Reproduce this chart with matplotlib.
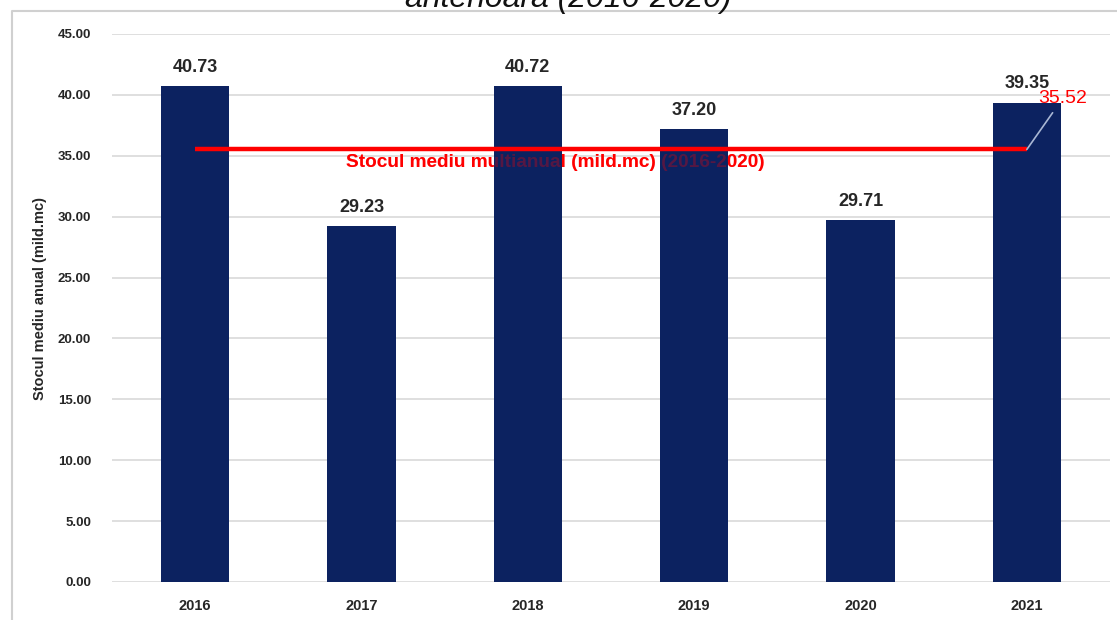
import matplotlib
matplotlib.use("Agg")
import matplotlib.pyplot as plt
from matplotlib.lines import Line2D

# values
years = ['2016', '2017', '2018', '2019', '2020', '2021']
stoc_mediu = [40.73, 29.23, 40.72, 37.20, 29.71, 39.35]
stoc_multianual = 35.52
yticks = [0, 5, 10, 15, 20, 25, 30, 35, 40, 45]

title_text = 'antenoara (2016-2020)'
ylabel_text = 'Stocul mediu anual (mild.mc)'
line_label = 'Stocul mediu multianual (mild.mc) (2016-2020)'

font = ['Liberation Sans', 'DejaVu Sans']
bar_color = '#0c2260'
red = '#ff0000'
dark = '#262626'

fig = plt.figure(figsize=(11.17, 6.2), dpi=100)
ax = fig.add_axes([112 / 1117, 1 - 582 / 620, 998 / 1117, 548 / 620])

x = list(range(len(years)))
ax.bar(x, stoc_mediu, width=0.41, color=bar_color, zorder=3)

# value labels above the bars
for xi, v in zip(x, stoc_mediu):
    ax.annotate(f'{v:.2f}', (xi, v), xytext=(0, 7.5), textcoords='offset points',
                ha='center', va='bottom', fontsize=13, fontweight='bold',
                family=font, color=dark, zorder=5)

# multi-year average line
ax.plot([x[0], x[-1]], [stoc_multianual, stoc_multianual], color=red, lw=3.2,
        zorder=4, solid_capstyle='butt')

# label of the line: under the bars, plus a faint copy on top
lab_x = (555 - 112) / (998 / 6) - 0.5
for z, a in [(2, 1.0), (4, 0.3)]:
    ax.annotate(line_label, (lab_x, stoc_multianual), xytext=(0, -9.5),
                textcoords='offset points', ha='center', va='center',
                fontsize=13.7, fontweight='bold', family=font, color=red,
                alpha=a, zorder=z)

ax.annotate(f'{stoc_multianual:.2f}', (x[-1], stoc_multianual), xytext=(26, 37),
            textcoords='offset points', ha='center', va='center', fontsize=14,
            family=font, color=red, zorder=5,
            arrowprops=dict(arrowstyle='-', color='#a9b7d4', lw=1.2,
                            shrinkA=3, shrinkB=0))

ax.set_xlim(-0.5, len(years) - 0.5)
ax.set_ylim(0, 45)
ax.set_yticks(yticks)
ax.set_yticklabels([f'{t:.2f}' for t in yticks], fontsize=9.5, fontweight='bold',
                   family=font, color=dark)
ax.set_xticks(x)
ax.set_xticklabels(years, fontsize=10.5, fontweight='bold', family=font,
                   color=dark)
ax.tick_params(axis='y', length=0, pad=15)
ax.tick_params(axis='x', length=0, pad=12)
ax.grid(axis='y', color='#d9d9d9', lw=1.2, zorder=0)
ax.set_axisbelow(True)
for s in ax.spines.values():
    s.set_visible(False)

ax.set_ylabel(ylabel_text, fontsize=10.5, fontweight='bold', family=font,
              color=dark)
ax.yaxis.set_label_coords(-0.065, 0.518)

# frame of the pasted chart
fig.add_artist(Line2D([12 / 1117, 12 / 1117, 1.0], [0.0, 1 - 11 / 620, 1 - 11 / 620],
                      transform=fig.transFigure, color='#d0d0d0', lw=1.5))

# title, cut off at the top edge
fig.text(568 / 1117, 1 - 7 / 620, title_text, ha='center', va='baseline',
         fontsize=23, style='italic', family=font, color='#111111')

fig.savefig('out.png', dpi=100)
